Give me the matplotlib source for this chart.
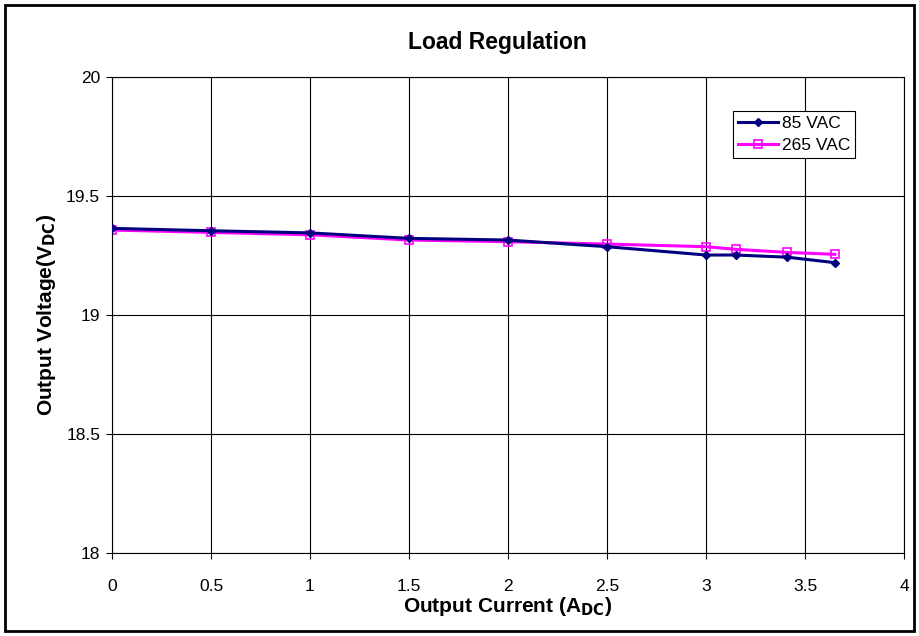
import matplotlib.pyplot as plt
from matplotlib.patches import Rectangle

plt.rcParams['font.family'] = ['Liberation Sans', 'DejaVu Sans']

# Load regulation data
current_a = [0, 0.5, 1, 1.5, 2, 2.5, 3, 3.15, 3.41, 3.65]
v_85vac = [19.364, 19.354, 19.345, 19.322, 19.315, 19.287, 19.252, 19.252, 19.243, 19.22]
v_265vac = [19.357, 19.347, 19.337, 19.315, 19.308, 19.298, 19.287, 19.276, 19.263, 19.255]

x_ticks = [0, 0.5, 1, 1.5, 2, 2.5, 3, 3.5, 4]
x_tick_labels = ['0', '0.5', '1', '1.5', '2', '2.5', '3', '3.5', '4']
y_ticks = [18, 18.5, 19, 19.5, 20]
y_tick_labels = ['18', '18.5', '19', '19.5', '20']

fig = plt.figure(figsize=(9.19, 6.36), dpi=100)
ax = fig.add_axes([112/919, 1-553/636, 792/919, 476/636])

ax.plot(current_a, v_85vac, color='#000080', lw=2.2, marker='D', ms=4,
        mfc='#000080', mec='#000080', label='85 VAC', zorder=3)
ax.plot(current_a, v_265vac, color='#FF00FF', lw=2.2, marker='s', ms=6,
        mfc='none', mec='#FF00FF', mew=1.2, label='265 VAC', zorder=2)

ax.set_xlim(0, 4)
ax.set_ylim(18, 20)
ax.set_xticks(x_ticks)
ax.set_xticklabels(x_tick_labels)
ax.set_yticks(y_ticks)
ax.set_yticklabels(y_tick_labels)
ax.tick_params(direction='out', length=4.5, width=0.8, labelsize=12.5)
ax.tick_params(axis='x', pad=14)
ax.tick_params(axis='y', pad=4)
ax.grid(True, color='black', lw=0.8)
for s in ax.spines.values():
    s.set_linewidth(0.8)
    s.set_color('black')

fig.text(497/919, 1-42/636, 'Load Regulation', fontsize=16.5, fontweight='bold',
         ha='center', va='center')
ax.set_xlabel('Output Current (A$_{\\mathbf{DC}}$)', fontsize=15, fontweight='bold', labelpad=1)
ax.set_ylabel('Output Voltage(V$_{\\mathbf{DC}}$)', fontsize=15, fontweight='bold', labelpad=6)

leg = ax.legend(loc='upper left', bbox_to_anchor=(621/792, 1-34/476), fontsize=12.5,
                frameon=True, fancybox=False, edgecolor='black', framealpha=1,
                borderpad=0.3, handlelength=2.3, handletextpad=0.2, labelspacing=0.35,
                borderaxespad=0)
leg.get_frame().set_linewidth(0.8)

fig.patches.append(Rectangle((5/919, 5/636), 909/919, 626/636, transform=fig.transFigure,
                             fill=False, edgecolor='black', lw=2))

fig.savefig('out.png', dpi=100)
